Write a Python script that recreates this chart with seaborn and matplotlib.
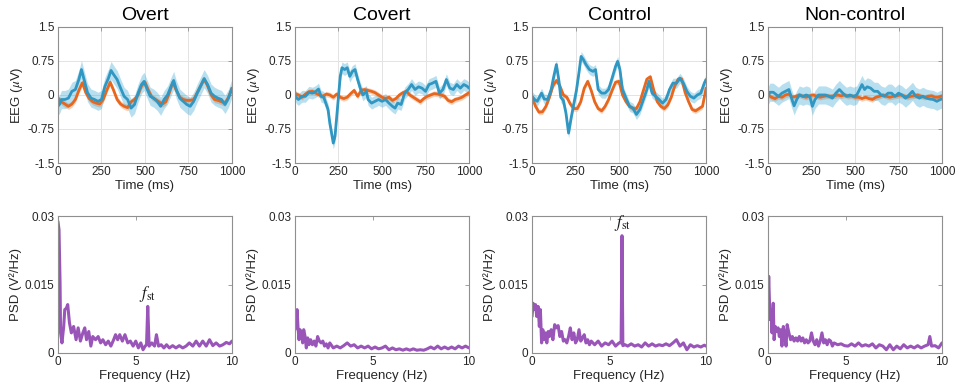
import matplotlib
matplotlib.use('Agg')
import matplotlib.pyplot as plt
import seaborn as sns

sns.set_theme(style='white')
plt.rcParams['font.family'] = ['Liberation Sans', 'DejaVu Sans']
plt.rcParams['mathtext.fontset'] = 'stix'

titles = ['Overt', 'Covert', 'Control', 'Non-control']

# ---- EEG averages (orange on a 20 ms grid, blue at read-off times) ----
t_orange = list(range(0, 1001, 20))

overt_orange = [-0.07, -0.15, -0.2, -0.25, -0.2, -0.1, 0.1, 0.27, 0.05, -0.08,
                -0.15, -0.18, -0.2, -0.1, 0.1, 0.28, 0.1, -0.1, -0.2, -0.25,
                -0.28, -0.15, -0.1, 0.0, 0.2, 0.28, 0.1, -0.05, -0.1, -0.15,
                -0.2, -0.15, 0.05, 0.28, 0.1, -0.05, -0.1, -0.12, -0.12, -0.1,
                0.05, 0.2, 0.35, 0.2, 0.0, -0.1, -0.12, -0.15, -0.18, -0.05,
                0.15]
covert_orange = [0.03, 0.0, -0.05, 0.02, 0.07, 0.08, 0.04, 0.0, -0.03, 0.02,
                 0.0, -0.05, 0.02, -0.05, -0.08, -0.05, 0.03, 0.1, -0.03, 0.1,
                 0.12, 0.1, 0.08, 0.05, 0.0, -0.05, -0.08, -0.05, -0.12, -0.08,
                 0.0, 0.05, 0.08, 0.0, -0.05, -0.1, -0.15, -0.08, -0.03, 0.0,
                 0.03, 0.02, 0.0, -0.03, -0.12, -0.15, -0.1, -0.08, -0.05, 0.0,
                 0.05]
control_orange = [-0.05, -0.25, -0.38, -0.37, -0.25, -0.05, 0.2, 0.32, 0.2, 0.0,
                  -0.05, -0.2, -0.3, -0.3, -0.15, 0.15, 0.3, 0.1, -0.15, -0.3,
                  -0.35, -0.25, -0.1, 0.1, 0.28, 0.3, 0.0, -0.15, -0.25, -0.3,
                  -0.3, -0.15, 0.1, 0.35, 0.4, 0.1, -0.15, -0.25, -0.3, -0.22,
                  -0.05, 0.2, 0.35, 0.35, 0.05, -0.15, -0.32, -0.35, -0.3, -0.25,
                  0.15]
noncontrol_orange = [0.0, -0.05, -0.08, -0.03, -0.05, 0.0, 0.02, -0.05, -0.03, 0.0,
                     -0.03, -0.05, -0.02, 0.0, -0.03, -0.05, -0.03, -0.02, -0.03, -0.02,
                     0.0, -0.02, 0.0, -0.03, -0.02, -0.05, -0.05, -0.08, -0.05, -0.08,
                     -0.1, -0.05, -0.03, 0.0, -0.03, -0.05, -0.03, -0.02, 0.0, -0.02,
                     -0.05, -0.03, -0.02, 0.0, -0.03, -0.05, -0.03, -0.02, -0.05, -0.05,
                     -0.02]

overt_blue_t = [0, 10, 20, 40, 60, 80, 100, 120, 135, 150,
                170, 190, 210, 230, 250, 270, 290, 305, 320, 340,
                360, 380, 400, 420, 440, 460, 480, 495, 510, 530,
                550, 570, 590, 610, 630, 650, 665, 680, 700, 720,
                740, 760, 780, 800, 820, 840, 860, 880, 900, 920,
                940, 960, 980, 1000]
overt_blue = [-0.25, -0.2, -0.1, -0.1, -0.07, 0.08, 0.12, 0.34, 0.56, 0.34,
              0.05, -0.07, -0.1, -0.14, -0.1, 0.19, 0.37, 0.54, 0.45, 0.34,
              0.15, -0.03, -0.1, -0.29, -0.21, 0.04, 0.23, 0.3, 0.15, -0.03,
              -0.07, -0.14, -0.25, -0.1, 0.0, 0.19, 0.32, 0.12, -0.07, -0.14,
              -0.21, -0.25, -0.14, 0.04, 0.2, 0.36, 0.23, 0.04, -0.03, -0.07,
              -0.1, -0.21, -0.07, 0.15]

covert_blue_t = [0, 10, 20, 40, 60, 80, 100, 120, 135, 150,
                 165, 190, 200, 210, 220, 230, 240, 250, 260, 270,
                 285, 300, 315, 330, 345, 360, 375, 390, 410, 420,
                 440, 460, 480, 500, 520, 540, 560, 575, 590, 610,
                 630, 650, 670, 690, 710, 730, 750, 770, 790, 810,
                 830, 850, 870, 890, 910, 930, 950, 970, 990, 1000]
covert_blue = [0.0, -0.07, -0.1, -0.03, -0.03, 0.06, 0.04, 0.08, 0.13, -0.03,
               -0.05, -0.32, -0.62, -0.84, -1.06, -0.91, -0.47, -0.03, 0.41, 0.6,
               0.56, 0.6, 0.41, 0.52, 0.56, 0.34, 0.15, 0.0, 0.08, -0.1,
               -0.18, -0.14, -0.1, -0.14, -0.1, -0.18, -0.25, -0.29, -0.18, -0.21,
               0.04, 0.12, 0.23, 0.12, 0.18, 0.15, 0.08, 0.23, 0.26, 0.3,
               0.04, 0.12, 0.34, 0.15, 0.12, 0.23, 0.15, 0.23, 0.19, 0.15]

control_blue_t = [0, 15, 30, 45, 55, 70, 90, 110, 125, 140,
                  155, 165, 180, 195, 210, 225, 240, 255, 270, 282,
                  295, 310, 330, 350, 365, 380, 400, 420, 440, 460,
                  480, 492, 505, 520, 540, 560, 580, 600, 620, 640,
                  660, 672, 690, 710, 730, 750, 770, 790, 810, 830,
                  850, 870, 890, 910, 930, 950, 970, 990, 1000]
control_blue = [-0.03, -0.1, -0.14, -0.03, 0.04, -0.09, -0.1, 0.12, 0.41, 0.67,
                0.3, -0.05, -0.12, -0.4, -0.84, -0.5, -0.2, 0.1, 0.5, 0.85,
                0.78, 0.67, 0.56, 0.52, 0.56, 0.12, 0.04, 0.04, 0.12, 0.37,
                0.63, 0.74, 0.56, 0.12, -0.07, -0.25, -0.29, -0.43, -0.32, -0.1,
                0.12, 0.3, 0.04, -0.03, -0.1, -0.18, -0.1, 0.12, 0.26, 0.26,
                0.37, 0.26, 0.08, -0.03, -0.07, 0.0, 0.04, 0.26, 0.34]

noncontrol_blue_t = [0, 10, 30, 50, 60, 80, 100, 120, 135, 150,
                     165, 180, 200, 220, 240, 255, 270, 290, 310, 330,
                     350, 370, 390, 410, 430, 450, 470, 490, 510, 530,
                     540, 555, 570, 590, 610, 630, 650, 670, 690, 710,
                     730, 750, 770, 790, 810, 830, 850, 870, 890, 910,
                     930, 950, 970, 990, 1000]
noncontrol_blue = [-0.03, 0.06, 0.06, 0.0, -0.03, 0.04, 0.08, 0.12, -0.07, -0.24,
                   -0.1, 0.0, -0.03, 0.0, -0.03, -0.25, -0.1, 0.0, 0.0, 0.0,
                   -0.03, -0.07, 0.04, 0.12, 0.04, -0.03, 0.0, -0.03, 0.0, 0.15,
                   0.23, 0.12, 0.18, 0.15, 0.08, 0.08, 0.0, -0.03, 0.04, 0.04,
                   -0.03, 0.04, 0.0, -0.07, 0.0, 0.08, -0.03, -0.07, -0.03, -0.07,
                   -0.09, -0.1, -0.14, -0.1, -0.09]

# half widths of the shaded bands, per condition
blue_ci = [0.2, 0.13, 0.11, 0.2]
orange_ci = [0.07, 0.06, 0.06, 0.06]

# ---- power spectra ----
overt_f = [0, 0.06, 0.12, 0.15, 0.23, 0.33, 0.39, 0.48, 0.56, 0.66,
           0.77, 0.9, 1.04, 1.16, 1.29, 1.43, 1.54, 1.64, 1.77, 1.89,
           2.0, 2.16, 2.31, 2.45, 2.58, 2.74, 2.89, 3.04, 3.2, 3.31,
           3.43, 3.55, 3.7, 3.85, 4.01, 4.16, 4.32, 4.47, 4.62, 4.76,
           4.89, 5.01, 5.09, 5.16, 5.24, 5.39, 5.55, 5.66, 5.78, 5.93,
           6.09, 6.24, 6.4, 6.59, 6.78, 6.97, 7.17, 7.36, 7.55, 7.75,
           7.94, 8.13, 8.32, 8.52, 8.71, 8.9, 9.09, 9.29, 9.48, 9.67,
           9.86, 10.0]
overt_psd = [0.0288, 0.027, 0.0153, 0.0044, 0.0022, 0.0058, 0.0095, 0.0098, 0.0106, 0.0066,
             0.0044, 0.0058, 0.0029, 0.0055, 0.0026, 0.0044, 0.0055, 0.0029, 0.0047, 0.0015,
             0.0036, 0.0029, 0.0036, 0.0022, 0.0029, 0.0018, 0.0026, 0.0015, 0.0029, 0.004,
             0.0029, 0.004, 0.0026, 0.004, 0.0022, 0.0026, 0.0015, 0.0026, 0.0011, 0.0022,
             0.0007, 0.0015, 0.0018, 0.0102, 0.0015, 0.0022, 0.0015, 0.004, 0.0015, 0.0018,
             0.0011, 0.0018, 0.0011, 0.0016, 0.0011, 0.0016, 0.0011, 0.0015, 0.0022, 0.0015,
             0.0026, 0.0015, 0.0026, 0.0015, 0.0029, 0.0016, 0.0022, 0.0015, 0.0018, 0.0023,
             0.002, 0.0026]

covert_f = [0, 0.06, 0.12, 0.17, 0.23, 0.29, 0.37, 0.44, 0.5, 0.58,
            0.65, 0.73, 0.8, 0.9, 1.0, 1.1, 1.2, 1.3, 1.4, 1.5,
            1.6, 1.7, 1.8, 1.9, 2.0, 2.2, 2.4, 2.6, 2.8, 3.0,
            3.2, 3.4, 3.6, 3.8, 4.0, 4.2, 4.4, 4.6, 4.8, 5.0,
            5.2, 5.4, 5.6, 5.8, 6.0, 6.2, 6.4, 6.6, 6.8, 7.0,
            7.2, 7.4, 7.6, 7.8, 8.0, 8.2, 8.4, 8.6, 8.8, 9.0,
            9.2, 9.4, 9.6, 9.8, 10.0]
covert_psd = [0.0051, 0.0066, 0.0095, 0.0058, 0.0029, 0.0051, 0.0044, 0.0022, 0.0051, 0.0036,
              0.0011, 0.0033, 0.0018, 0.0029, 0.0018, 0.0026, 0.0015, 0.0036, 0.0026, 0.0022,
              0.0026, 0.0015, 0.002, 0.0011, 0.0022, 0.0011, 0.0015, 0.0011, 0.0016, 0.0022,
              0.0015, 0.0018, 0.0011, 0.0015, 0.0011, 0.0015, 0.0009, 0.0013, 0.0009, 0.0011,
              0.0015, 0.0007, 0.0011, 0.0007, 0.0009, 0.0006, 0.0009, 0.0006, 0.0009, 0.0006,
              0.0007, 0.0006, 0.0009, 0.0013, 0.0009, 0.0015, 0.0009, 0.0013, 0.0009, 0.0013,
              0.0009, 0.0015, 0.0011, 0.0015, 0.0011]

control_f = [0, 0.06, 0.12, 0.2, 0.27, 0.35, 0.42, 0.48, 0.55, 0.62,
             0.7, 0.78, 0.85, 0.93, 1.0, 1.1, 1.2, 1.3, 1.4, 1.5,
             1.6, 1.7, 1.8, 1.9, 2.0, 2.1, 2.2, 2.3, 2.4, 2.5,
             2.6, 2.7, 2.8, 2.9, 3.0, 3.1, 3.2, 3.3, 3.4, 3.6,
             3.8, 4.0, 4.2, 4.4, 4.6, 4.8, 5.0, 5.12, 5.17, 5.22,
             5.35, 5.5, 5.7, 5.9, 6.1, 6.3, 6.5, 6.7, 6.9, 7.1,
             7.3, 7.5, 7.7, 7.9, 8.1, 8.3, 8.5, 8.7, 8.9, 9.1,
             9.3, 9.5, 9.7, 9.9, 10.0]
control_psd = [0.008, 0.0109, 0.0095, 0.0106, 0.008, 0.0102, 0.0058, 0.0095, 0.0022, 0.0051,
               0.0029, 0.0044, 0.0022, 0.0047, 0.0036, 0.0051, 0.0029, 0.0062, 0.0055, 0.006,
               0.0036, 0.0047, 0.0026, 0.0029, 0.0022, 0.0036, 0.0055, 0.0029, 0.0044, 0.0022,
               0.0029, 0.0051, 0.0026, 0.0033, 0.004, 0.0022, 0.0029, 0.0018, 0.0026, 0.0018,
               0.0026, 0.0015, 0.0022, 0.0018, 0.0026, 0.0015, 0.0022, 0.0022, 0.0257, 0.0016,
               0.0018, 0.0015, 0.002, 0.0015, 0.0018, 0.0013, 0.0022, 0.0015, 0.002, 0.0015,
               0.0018, 0.0016, 0.002, 0.0016, 0.0022, 0.0029, 0.0015, 0.0022, 0.0007, 0.0018,
               0.0013, 0.0016, 0.0013, 0.0017, 0.0015]

noncontrol_f = [0, 0.04, 0.08, 0.12, 0.17, 0.23, 0.3, 0.35, 0.42, 0.5,
                0.58, 0.65, 0.73, 0.8, 0.88, 0.96, 1.04, 1.1, 1.2, 1.3,
                1.4, 1.5, 1.6, 1.7, 1.8, 1.9, 2.0, 2.1, 2.2, 2.3,
                2.4, 2.5, 2.6, 2.7, 2.8, 2.9, 3.0, 3.1, 3.2, 3.3,
                3.4, 3.5, 3.6, 3.7, 3.8, 4.0, 4.2, 4.4, 4.6, 4.8,
                5.0, 5.2, 5.4, 5.6, 5.8, 6.0, 6.2, 6.4, 6.6, 6.8,
                7.0, 7.2, 7.4, 7.6, 7.8, 8.0, 8.2, 8.4, 8.6, 8.8,
                9.0, 9.2, 9.3, 9.4, 9.6, 9.8, 10.0]
noncontrol_psd = [0.0102, 0.0168, 0.0117, 0.0073, 0.0095, 0.0044, 0.0109, 0.0029, 0.0058, 0.0047,
                  0.0055, 0.0036, 0.0051, 0.0015, 0.0058, 0.0036, 0.0015, 0.0062, 0.0044, 0.0029,
                  0.0036, 0.0026, 0.0033, 0.0026, 0.0036, 0.0026, 0.0033, 0.0022, 0.0029, 0.0022,
                  0.0026, 0.0044, 0.0026, 0.0018, 0.0029, 0.0015, 0.0026, 0.0044, 0.0022, 0.0029,
                  0.0018, 0.0029, 0.0026, 0.0015, 0.0022, 0.0018, 0.002, 0.0016, 0.0015, 0.002,
                  0.0015, 0.0022, 0.0015, 0.0018, 0.0015, 0.002, 0.0011, 0.0018, 0.0015, 0.0007,
                  0.0018, 0.0007, 0.0015, 0.0009, 0.0018, 0.0011, 0.0015, 0.0011, 0.0016, 0.0011,
                  0.0015, 0.0018, 0.0036, 0.0015, 0.0016, 0.0011, 0.0022]

# f_st labels: (panel index, frequency, height)
fst_marks = [(0, 5.16, 0.0108), (2, 5.17, 0.0262)]

oranges = [overt_orange, covert_orange, control_orange, noncontrol_orange]
blues = [(overt_blue_t, overt_blue), (covert_blue_t, covert_blue),
         (control_blue_t, control_blue), (noncontrol_blue_t, noncontrol_blue)]
spectra = [(overt_f, overt_psd), (covert_f, covert_psd),
           (control_f, control_psd), (noncontrol_f, noncontrol_psd)]

BLUE = '#3096c2'
BAND_BLUE = '#35a6d2'
ORANGE = '#e8671e'
PURPLE = '#9a55b9'
SPINE = '#8f8f8f'

fig = plt.figure(figsize=(9.55, 3.9), dpi=100)
lefts = [0.0607, 0.3089, 0.5571, 0.8042]
w = 0.1822


def style_axes(ax):
    for s in ax.spines.values():
        s.set_visible(True)
        s.set_color(SPINE)
        s.set_linewidth(0.8)
    ax.tick_params(direction='in', length=3, width=0.6, color=SPINE,
                   top=True, right=True, labelsize=8.5, labelcolor='#262626',
                   pad=2.5)


for i in range(4):
    # top: EEG
    ax = fig.add_axes([lefts[i], 0.582, w, 0.349])
    o = oranges[i]
    ax.fill_between(t_orange, [v - orange_ci[i] for v in o],
                    [v + orange_ci[i] for v in o],
                    color='#f4b088', alpha=0.6, lw=0)
    sns.lineplot(x=t_orange, y=o, color=ORANGE, lw=2, ax=ax)
    bt, bv = blues[i]
    ax.fill_between(bt, [v - blue_ci[i] for v in bv],
                    [v + blue_ci[i] for v in bv],
                    color=BAND_BLUE, alpha=0.35, lw=0)
    sns.lineplot(x=bt, y=bv, color=BLUE, lw=2, ax=ax)
    ax.set_xlim(0, 1000)
    ax.set_ylim(-1.5, 1.5)
    ax.set_xticks([0, 250, 500, 750, 1000])
    ax.set_yticks([-1.5, -0.75, 0, 0.75, 1.5])
    ax.set_yticklabels(['-1.5', '-0.75', '0', '0.75', '1.5'])
    ax.grid(True, color='#e3e3e3', lw=0.7)
    ax.set_axisbelow(True)
    style_axes(ax)
    ax.set_xlabel('Time (ms)', fontsize=9.5, labelpad=1, color='#262626')
    ax.set_ylabel(r'EEG ($\mu$V)', fontsize=9.5, labelpad=2, color='#262626')
    ax.set_title(titles[i], fontsize=14, pad=5, color='black')

    # bottom: PSD
    ax2 = fig.add_axes([lefts[i], 0.095, w, 0.351])
    f, p = spectra[i]
    sns.lineplot(x=f, y=p, color=PURPLE, lw=2.2, ax=ax2)
    ax2.set_xlim(0, 10)
    ax2.set_ylim(0, 0.03)
    ax2.set_xticks([0, 4.48, 10])
    ax2.set_xticklabels(['0', '5', '10'])
    ax2.set_yticks([0, 0.015, 0.03])
    ax2.set_yticklabels(['0', '0.015', '0.03'])
    ax2.grid(False)
    style_axes(ax2)
    ax2.set_xlabel('Frequency (Hz)', fontsize=9.5, labelpad=1, color='#262626')
    ax2.set_ylabel('PSD (V\u00b2/Hz)', fontsize=9.5, labelpad=2, color='#262626')

    for k, fx, fy in fst_marks:
        if k == i:
            ax2.text(fx, fy, r'$f_{\mathrm{st}}$', fontsize=12,
                     ha='center', va='bottom', color='#1a1a1a')

fig.savefig('out.png', dpi=100)
